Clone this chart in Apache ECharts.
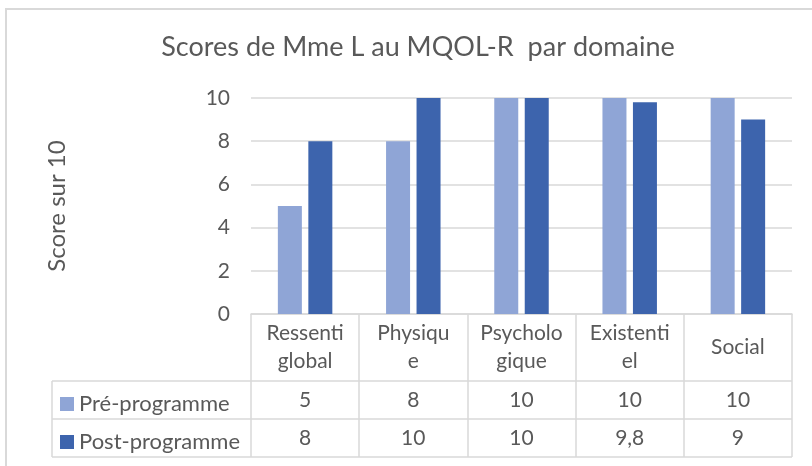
<!DOCTYPE html>
<html>
<head>
<meta charset="utf-8">
<script src="https://cdn.jsdelivr.net/npm/echarts@6/dist/echarts.min.js"></script>
<style>
  html, body { margin: 0; padding: 0; background: #fff; }
  #chart { width: 812px; height: 466px; }
</style>
</head>
<body>
<div id="chart"></div>
<script>
// données du graphique
const categories = ['Ressenti\nglobal', 'Physiqu\ne', 'Psycholo\ngique', 'Existenti\nel', 'Social'];
const seriesNames = ['Pré-programme', 'Post-programme'];
const preValues = [5, 8, 10, 10, 10];
const postValues = [8, 10, 10, 9.8, 9];
const yTicks = [0, 2, 4, 6, 8, 10];

const FONT = 'Lato, "Open Sans", sans-serif';
const TEXT = '#595959';
const LINE = '#D9D9D9';
const colors = ['#8FA5D6', '#3D64AD'];

// mise en page (grille + tableau de données)
const gridLeft = 251, gridRight = 20, gridTop = 98, gridBottom = 152;
const axisY = 466 - gridBottom;           // 314
const rowLines = [381, 419, 457];         // lignes du tableau
const rowCenters = [400, 438];
const tableLeft = 52;
const fmt = (v) => String(v).replace('.', ',');

const chart = echarts.init(document.getElementById('chart'));

const valueAxis = (values, rowCenter) => ({
  type: 'category',
  data: categories,
  position: 'bottom',
  offset: rowCenter - axisY,
  axisLine: { show: false },
  axisTick: { show: false },
  axisLabel: {
    margin: 0,
    verticalAlign: 'middle',
    fontFamily: FONT, fontSize: 21, color: TEXT,
    formatter: (v, i) => fmt(values[i])
  }
});

// une légende par ligne du tableau
const rowLegend = (name, i) => ({
  left: 55, top: rowCenters[i] - 7 - 5,
  itemWidth: 14, itemHeight: 14,
  icon: 'rect',
  data: [name],
  textStyle: { fontFamily: FONT, fontSize: 22, color: TEXT }
});

const option = {
  animation: false,
  title: {
    text: 'Scores de Mme L au MQOL-R  par domaine',
    left: 413, top: 29, textAlign: 'center',
    textStyle: { fontFamily: FONT, fontSize: 27, fontWeight: 'normal', color: TEXT }
  },
  legend: seriesNames.map(rowLegend),
  grid: { left: gridLeft, right: gridRight, top: gridTop, bottom: gridBottom },
  xAxis: [
    {
      type: 'category',
      data: categories,
      axisLine: { lineStyle: { color: LINE, width: 1.5 } },
      axisTick: { show: true, length: rowLines[2] - axisY, lineStyle: { color: LINE, width: 1.5 } },
      axisLabel: {
        margin: 33, verticalAlign: 'middle', lineHeight: 28,
        fontFamily: FONT, fontSize: 21, color: TEXT
      }
    },
    valueAxis(preValues, rowCenters[0]),
    valueAxis(postValues, rowCenters[1])
  ],
  yAxis: {
    type: 'value',
    min: yTicks[0], max: yTicks[yTicks.length - 1], interval: 2,
    name: 'Score sur 10',
    nameLocation: 'middle', nameRotate: 90, nameGap: 182,
    nameTextStyle: { fontFamily: FONT, fontSize: 24, color: TEXT },
    axisLine: { show: false },
    axisTick: { show: false },
    axisLabel: { margin: 21, fontFamily: FONT, fontSize: 21, color: TEXT },
    splitLine: { lineStyle: { color: LINE, width: 1.5 } }
  },
  series: [
    { name: seriesNames[0], type: 'bar', data: preValues, barWidth: 24, barGap: '27%',
      itemStyle: { color: colors[0] } },
    { name: seriesNames[1], type: 'bar', data: postValues, barWidth: 24,
      itemStyle: { color: colors[1] } }
  ],
  graphic: [
    // cadre extérieur
    { type: 'rect', shape: { x: 6, y: 9, width: 900, height: 600 },
      style: { fill: 'none', stroke: LINE, lineWidth: 2 }, silent: true },
    // lignes horizontales du tableau
    ...rowLines.map((y) => ({
      type: 'line', shape: { x1: tableLeft, y1: y, x2: 812 - gridRight, y2: y },
      style: { stroke: LINE, lineWidth: 1.5 }, silent: true
    })),
    // bord gauche de la colonne de légende
    { type: 'line', shape: { x1: tableLeft, y1: rowLines[0], x2: tableLeft, y2: rowLines[2] },
      style: { stroke: LINE, lineWidth: 1.5 }, silent: true }
  ]
};

chart.setOption(option);
</script>
</body>
</html>
